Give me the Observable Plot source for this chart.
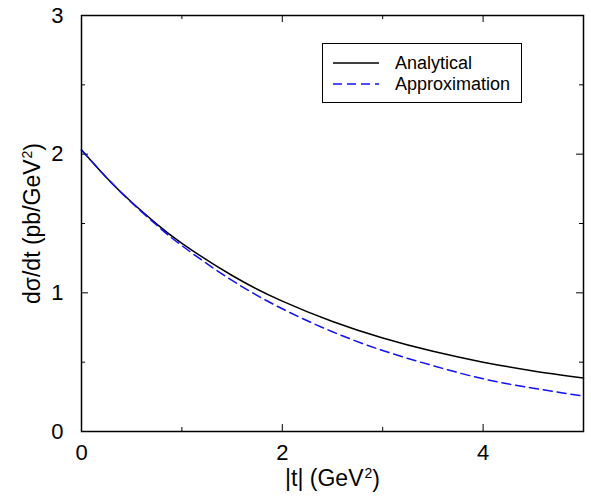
<!DOCTYPE html>
<html>
<head>
<meta charset="utf-8">
<script src="https://cdn.jsdelivr.net/npm/d3@7"></script>
<script src="https://cdn.jsdelivr.net/npm/@observablehq/plot@0.6"></script>
<style>
  html, body { margin: 0; padding: 0; background: white; }
  #wrap { position: relative; width: 591px; height: 500px; font-family: "Liberation Sans", Arial, sans-serif; }
  #legend { position: absolute; left: 322px; top: 43px; width: 200px; height: 60px; border: 1px solid black; background: white; box-sizing: border-box; }
  .row { position: absolute; left: 0; height: 22px; display: flex; align-items: center; font-size: 18px; white-space: nowrap; }
  .row svg { margin-left: 10px; margin-right: 16px; }
</style>
</head>
<body>
<div id="wrap"></div>
<script>
const t = [0, 0.25, 0.5, 0.75, 1, 1.5, 2, 2.5, 3, 3.5, 4, 4.5, 5];
const analytical = [2.03, 1.83, 1.653, 1.496, 1.357, 1.125, 0.94, 0.793, 0.674, 0.578, 0.50, 0.437, 0.385];
const approximation = [2.03, 1.83, 1.65, 1.487, 1.34, 1.089, 0.885, 0.719, 0.584, 0.475, 0.38, 0.312, 0.255];
const seriesNames = ["Analytical", "Approximation"];
const xTickLabels = [0, 2, 4];
const xMinorTicks = [1, 3];
const yTickLabels = [0, 1, 2, 3];
const yMinorTicks = [0.5, 1.5, 2.5];
const xLabel = "|t| (GeV²)";
const yLabel = "dσ/dt (pb/GeV²)";

const dataA = t.map((x, i) => ({x, y: analytical[i]}));
const dataB = t.map((x, i) => ({x, y: approximation[i]}));

const H = 500, W = 591, mt = 15, mb = 69, ml = 81, mr = 8;
const ih = H - mt - mb, iw = W - ml - mr;
const major = 7, minor = 4;
const font = "'Liberation Sans', Arial, sans-serif";

const chart = Plot.plot({
  width: W, height: H,
  marginLeft: ml, marginRight: mr, marginTop: mt, marginBottom: mb,
  x: {domain: [0, 5], axis: null},
  y: {domain: [0, 3], axis: null},
  style: {fontFamily: font, background: "white", color: "black"},
  marks: [
    Plot.text(xTickLabels, {x: d => d, text: d => String(d), frameAnchor: "bottom", lineAnchor: "middle", dy: 21, fontSize: 22}),
    Plot.text(yTickLabels, {y: d => d, text: d => String(d), frameAnchor: "left", textAnchor: "end", lineAnchor: "middle", dx: -18, fontSize: 22}),
    Plot.tickX(xTickLabels, {x: d => d, insetTop: ih - major, stroke: "black"}),
    Plot.tickX(xTickLabels, {x: d => d, insetBottom: ih - major, stroke: "black"}),
    Plot.tickX(xMinorTicks, {x: d => d, insetTop: ih - minor, stroke: "black"}),
    Plot.tickX(xMinorTicks, {x: d => d, insetBottom: ih - minor, stroke: "black"}),
    Plot.tickY(yTickLabels, {y: d => d, insetRight: iw - major, stroke: "black"}),
    Plot.tickY(yTickLabels, {y: d => d, insetLeft: iw - major, stroke: "black"}),
    Plot.tickY(yMinorTicks, {y: d => d, insetRight: iw - minor, stroke: "black"}),
    Plot.tickY(yMinorTicks, {y: d => d, insetLeft: iw - minor, stroke: "black"}),
    Plot.line(dataA, {x: "x", y: "y", stroke: "black", strokeWidth: 1.5, curve: "natural"}),
    Plot.line(dataB, {x: "x", y: "y", stroke: "#1010ff", strokeWidth: 1.5, strokeDasharray: "9,5", curve: "natural"}),
    Plot.frame({stroke: "black", strokeWidth: 1.5}),
    Plot.text([xLabel], {frameAnchor: "bottom", textAnchor: "middle", lineAnchor: "middle", dy: 47, fontSize: 23, className: "title"}),
    Plot.text([yLabel], {frameAnchor: "left", textAnchor: "middle", lineAnchor: "middle", dx: -49, rotate: -90, fontSize: 23, className: "title"})
  ]
});

// render the "²" as a raised superscript
d3.select(chart).selectAll("text").each(function() {
  const el = d3.select(this);
  const tspan = el.select("tspan");
  const target = tspan.empty() ? el : tspan;
  const s = target.text();
  if (!s.includes("²")) return;
  const [before, after] = s.split("²");
  target.text(null);
  target.append("tspan").text(before);
  target.append("tspan").attr("font-size", 14).attr("dy", "-0.55em").attr("dx", 1).text("2");
  target.append("tspan").attr("dy", "0.39em").text(after);
});

const wrap = document.getElementById("wrap");
wrap.appendChild(chart);

const legend = document.createElement("div");
legend.id = "legend";
const styles = [{stroke: "black", dash: ""}, {stroke: "#1010ff", dash: "9,5"}];
seriesNames.forEach((name, i) => {
  const row = document.createElement("div");
  row.className = "row";
  row.style.top = (i === 0 ? 8 : 29) + "px";
  row.innerHTML = `<svg width="46" height="4"><line x1="0" x2="46" y1="2" y2="2" stroke="${styles[i].stroke}" stroke-width="1.5" ${styles[i].dash ? `stroke-dasharray="${styles[i].dash}"` : ""}/></svg><span>${name}</span>`;
  legend.appendChild(row);
});
wrap.appendChild(legend);
</script>
</body>
</html>
